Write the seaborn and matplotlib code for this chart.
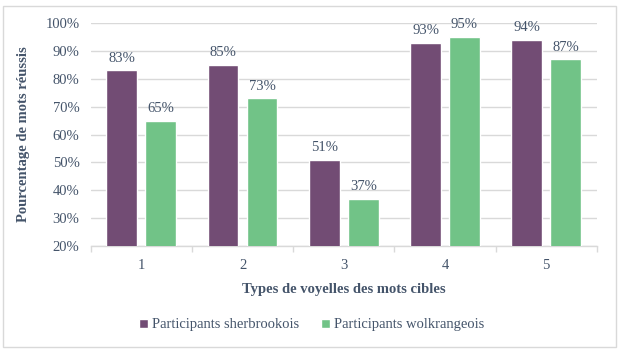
import matplotlib
matplotlib.use("Agg")
import matplotlib.pyplot as plt
import seaborn as sns
import pandas as pd
from matplotlib.patches import Rectangle
from matplotlib.ticker import FixedLocator

# data
types = ["1", "2", "3", "4", "5"]
sherbrookois = [83, 85, 51, 93, 94]
wolkrangeois = [65, 73, 37, 95, 87]
groups = ["Participants sherbrookois", "Participants wolkrangeois"]

df = pd.DataFrame({
    "Type": types * 2,
    "Pct": sherbrookois + wolkrangeois,
    "Groupe": [groups[0]] * len(types) + [groups[1]] * len(types),
})

sns.set_theme(style="white")
plt.rcParams["font.family"] = ["Liberation Serif", "DejaVu Serif"]
txt = "#44546A"
grid = "#D9D9D9"
fs = 10.5

fig = plt.figure(figsize=(6.23, 3.54), dpi=100)
ax = fig.add_axes([0.1456, 0.305, 0.8124, 0.63])

sns.barplot(data=df, x="Type", y="Pct", hue="Groupe",
            palette=["#724C74", "#71C387"], saturation=1,
            width=0.77, gap=0.21, ax=ax, zorder=3)

for c in ax.containers:
    ax.bar_label(c, labels=[f"{v:.0f}%" for v in c.datavalues],
                 padding=4, fontsize=fs, color=txt)

ax.set_ylim(20, 100)
ax.set_yticks(range(20, 101, 10))
ax.set_yticklabels([f"{v}%" for v in range(20, 101, 10)])
ax.set_xlim(-0.5, 4.5)
ax.yaxis.grid(True, color=grid, linewidth=1, zorder=0)
ax.set_axisbelow(True)
for s in ["top", "right", "left"]:
    ax.spines[s].set_visible(False)
ax.spines["bottom"].set_color(grid)
ax.spines["bottom"].set_linewidth(1)

ax.xaxis.set_minor_locator(FixedLocator([-0.5, 0.5, 1.5, 2.5, 3.5, 4.5]))
ax.tick_params(axis="x", which="minor", length=4, color=grid, width=1, bottom=True)
ax.tick_params(axis="x", which="major", length=0, pad=9, labelsize=fs, labelcolor=txt)
ax.tick_params(axis="y", length=0, pad=8, labelsize=fs, labelcolor=txt)

ax.set_xlabel("Types de voyelles des mots cibles", fontsize=fs, fontweight="bold", color=txt)
ax.set_ylabel("Pourcentage de mots réussis", fontsize=fs, fontweight="bold", color=txt)
ax.xaxis.set_label_coords(0.5, -0.166)
ax.yaxis.set_label_coords(-0.12, 0.5)

ax.legend_.remove()
handles, labels = ax.get_legend_handles_labels()
fig.legend(handles, labels, loc="center", bbox_to_anchor=(0.5, 0.082), ncol=2,
           frameon=False, fontsize=fs, labelcolor=txt, handlelength=0.6,
           handleheight=0.6, handletextpad=0.3, columnspacing=1.5)

fig.patches.append(Rectangle((3 / 623, 1 - 347 / 354), 613 / 623, 341 / 354,
                             transform=fig.transFigure, fill=False,
                             edgecolor=grid, linewidth=1))

fig.savefig("out.png", dpi=100)
